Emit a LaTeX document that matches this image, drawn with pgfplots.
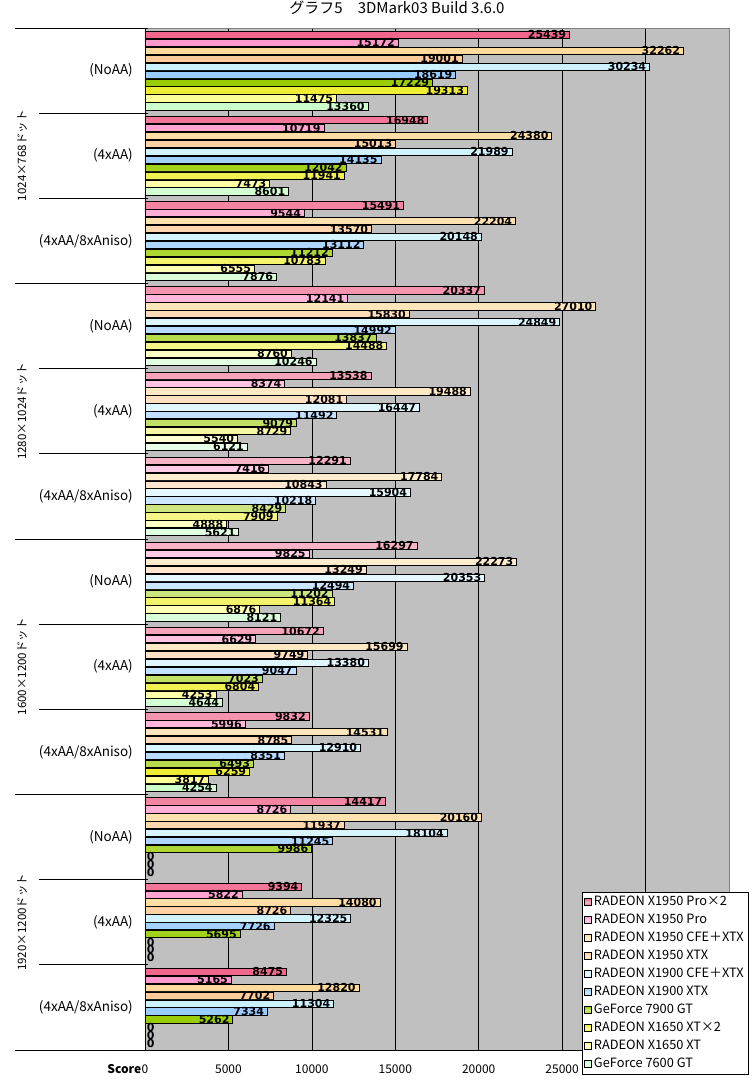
\documentclass[border=0pt]{standalone}
\usepackage{fontspec}
\usepackage{pgfplots}
\usepackage{pgfplotstable}
\pgfplotsset{compat=1.18}
\setmainfont{Noto Sans CJK JP}
\newfontfamily\numfont{DejaVu Sans}
\definecolor{bgc}{HTML}{C0C0C0}
\definecolor{c1}{HTML}{F0668C}
\definecolor{c2}{HTML}{FF99CC}
\definecolor{c3}{HTML}{FFDA9C}
\definecolor{c4}{HTML}{FFCC99}
\definecolor{c5}{HTML}{CCF2FF}
\definecolor{c6}{HTML}{99CCFF}
\definecolor{c7}{HTML}{99CC00}
\definecolor{c8}{HTML}{EEEE33}
\definecolor{c9}{HTML}{FFFF99}
\definecolor{c10}{HTML}{CCFFCC}
\pgfplotstableread{
g s1 s2 s3 s4 s5 s6 s7 s8 s9 s10
0 25439 15172 32262 19001 30234 18619 17229 19313 11475 13360
1 16948 10719 24380 15013 21989 14135 12042 11941 7473 8601
2 15491 9544 22204 13570 20148 13112 11212 10783 6555 7876
3 20337 12141 27010 15830 24849 14992 13837 14488 8760 10246
4 13538 8374 19488 12081 16447 11492 9079 8729 5540 6121
5 12291 7416 17784 10843 15904 10218 8429 7909 4888 5621
6 16297 9825 22273 13249 20353 12494 11202 11364 6876 8121
7 10672 6629 15699 9749 13380 9047 7023 6804 4253 4644
8 9832 5996 14531 8785 12910 8351 6493 6259 3817 4254
9 14417 8726 20160 11937 18104 11245 9986 0 0 0
10 9394 5822 14080 8726 12325 7726 5695 0 0 0
11 8475 5165 12820 7702 11304 7334 5262 0 0 0
}\datatable
\pgfplotsset{
  mybar/.style={xbar, bar width=0.085, bar shift=0pt,
    draw=black, line width=0.7pt,
    top color=#1, bottom color=#1, middle color=#1!45!white,
    legend image code/.code={\draw[##1, draw=black, line width=0.5pt] (0pt,-3.5pt) rectangle (7pt,3.5pt);},
    nodes near coords,
    every node near coord/.append style={anchor=east, xshift=-3pt, inner sep=0pt, font=\numfont\bfseries\fontsize{11}{11}\selectfont, text=black}},
  zerobar/.style={xbar, bar width=0.085, bar shift=0pt,
    draw=black, line width=0.7pt, fill=#1, forget plot,
    nodes near coords,
    every node near coord/.append style={anchor=west, xshift=1.5pt, inner sep=0pt, font=\numfont\bfseries\fontsize{11}{11}\selectfont, text=black}},
}
\begin{document}
\begin{tikzpicture}
\path[use as bounding box] (-145pt,-33pt) rectangle (608pt,1050pt);
\begin{axis}[
  at={(0pt,0pt)}, anchor=south west,
  scale only axis, width=584pt, height=1022pt,
  xmin=0, xmax=35000, ymin=-0.5, ymax=11.5, y dir=reverse,
  clip=false,
  axis background/.style={fill=bgc},
  axis line style={draw=gray, line width=0.8pt},
  xmajorgrids, grid style={black, line width=0.6pt},
  xtick={0,5000,...,30000},
  ytick={0,...,11},
  yticklabels={(NoAA),(4xAA),(4xAA/8xAniso),(NoAA),(4xAA),(4xAA/8xAniso),(NoAA),(4xAA),(4xAA/8xAniso),(NoAA),(4xAA),(4xAA/8xAniso)},
  tick style={draw=none},
  major tick length=0pt,
  scaled x ticks=false,
  /pgf/number format/.cd, fixed, precision=0, 1000 sep={}, assume math mode=true, /pgfplots/.cd,
  xticklabel style={anchor=center, yshift=-19pt, font=\fontsize{12}{14}\selectfont},
  yticklabel style={anchor=east, inner sep=0pt, xshift=-12pt, font=\fontsize{13.5}{15}\selectfont},
  title={グラフ5　3DMark03 Build 3.6.0},
  title style={at={(axis description cs:0.4315,1)}, anchor=center, yshift=14pt, font=\fontsize{15}{17}\selectfont},
  legend style={at={(axis description cs:1.0325,0.1546)}, anchor=north east, draw=black, fill=white,
    font=\fontsize{12.8}{14}\selectfont, inner xsep=2pt, inner ysep=1pt, row sep=0pt,
    nodes={text height=9pt, text depth=2.5pt, inner ysep=3.25pt, inner xsep=2pt}},
  legend cell align=left,
]
\addplot[mybar=c1] table[x=s1,y expr=\thisrow{g}-4.5*0.093]{\datatable};
\addplot[mybar=c2] table[x=s2,y expr=\thisrow{g}-3.5*0.093]{\datatable};
\addplot[mybar=c3] table[x=s3,y expr=\thisrow{g}-2.5*0.093]{\datatable};
\addplot[mybar=c4] table[x=s4,y expr=\thisrow{g}-1.5*0.093]{\datatable};
\addplot[mybar=c5] table[x=s5,y expr=\thisrow{g}-0.5*0.093]{\datatable};
\addplot[mybar=c6] table[x=s6,y expr=\thisrow{g}+0.5*0.093]{\datatable};
\addplot[mybar=c7] table[x=s7,y expr=\thisrow{g}+1.5*0.093]{\datatable};
\addplot[mybar=c8, restrict y to domain=-1:8.5] table[x=s8,y expr=\thisrow{g}+2.5*0.093]{\datatable};
\addplot[mybar=c9, restrict y to domain=-1:8.5] table[x=s9,y expr=\thisrow{g}+3.5*0.093]{\datatable};
\addplot[mybar=c10, restrict y to domain=-1:8.5] table[x=s10,y expr=\thisrow{g}+4.5*0.093]{\datatable};
\addplot[zerobar=c8, restrict y to domain=8.5:12] table[x=s8,y expr=\thisrow{g}+2.5*0.093]{\datatable};
\addplot[zerobar=c9, restrict y to domain=8.5:12] table[x=s9,y expr=\thisrow{g}+3.5*0.093]{\datatable};
\addplot[zerobar=c10, restrict y to domain=8.5:12] table[x=s10,y expr=\thisrow{g}+4.5*0.093]{\datatable};
\legend{RADEON X1950 Pro×2,RADEON X1950 Pro,RADEON X1950 CFE＋XTX,RADEON X1950 XTX,RADEON X1900 CFE＋XTX,RADEON X1900 XTX,GeForce 7900 GT,RADEON X1650 XT×2,RADEON X1650 XT,GeForce 7600 GT}
% separators
\pgfplotsinvokeforeach{-0.5,2.5,5.5,8.5,11.5}{\draw[black, line width=0.8pt] ([xshift=-130pt]axis cs:0,#1) -- ([xshift=3pt]axis cs:0,#1);}
\pgfplotsinvokeforeach{0.5,1.5,3.5,4.5,6.5,7.5,9.5,10.5}{\draw[black, line width=0.8pt] ([xshift=-106pt]axis cs:0,#1) -- ([xshift=3pt]axis cs:0,#1);}
\draw[black, line width=0.8pt] (axis cs:0,-0.5) -- (axis cs:0,11.5) -- (axis cs:35000,11.5);
\node[rotate=90, font=\fontsize{11.5}{13}\selectfont] at ([xshift=-123pt]axis cs:0,1) {1024×768ドット};
\node[rotate=90, font=\fontsize{11.5}{13}\selectfont] at ([xshift=-123pt]axis cs:0,4) {1280×1024ドット};
\node[rotate=90, font=\fontsize{11.5}{13}\selectfont] at ([xshift=-123pt]axis cs:0,7) {1600×1200ドット};
\node[rotate=90, font=\fontsize{11.5}{13}\selectfont] at ([xshift=-123pt]axis cs:0,10) {1920×1200ドット};
\node[anchor=east, inner sep=0pt, font=\bfseries\fontsize{12}{14}\selectfont] at ([xshift=-3.5pt, yshift=-19pt]axis cs:0,11.5) {Score};
\end{axis}
\end{tikzpicture}
\end{document}
